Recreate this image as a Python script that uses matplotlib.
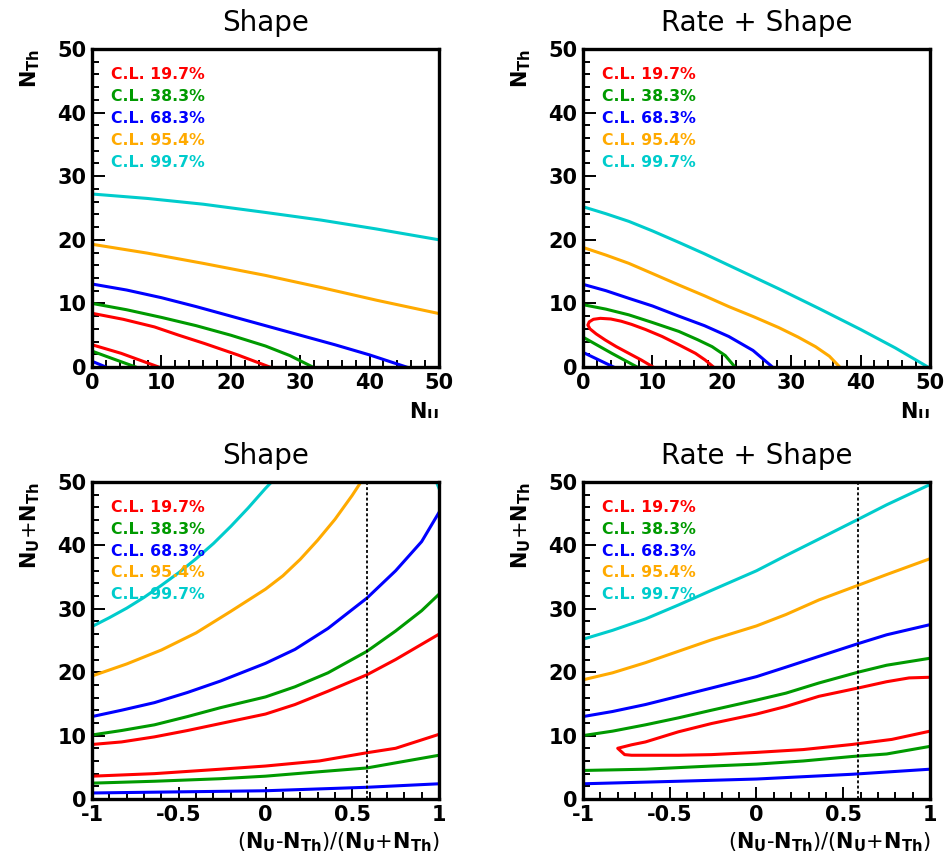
import matplotlib
matplotlib.use('Agg')
import matplotlib.pyplot as plt
from matplotlib.ticker import MultipleLocator, FuncFormatter
from matplotlib.transforms import Bbox, TransformedBbox

plt.rcParams['font.family'] = 'DejaVu Sans'
plt.rcParams['font.weight'] = 'bold'
plt.rcParams['mathtext.fontset'] = 'dejavusans'
plt.rcParams['mathtext.default'] = 'bf'
plt.rcParams['axes.unicode_minus'] = False

cl_labels = ['C.L. 19.7%', 'C.L. 38.3%', 'C.L. 68.3%', 'C.L. 95.4%', 'C.L. 99.7%']
cl_colors = ['#ff0000', '#009a00', '#0000ff', '#ffaa00', '#00cccc']

# --- Shape : N_U vs N_Th
s_red1_u = [0, 4.5, 9.0, 12.5, 16.2, 21.0, 25.6]
s_red1_t = [8.45, 7.5, 6.3, 5.0, 3.7, 1.9, 0]
s_red2_u = [0, 4.2, 9.6]
s_red2_t = [3.5, 2.15, 0]
s_green1_u = [0, 5, 10, 15, 20, 25, 28.5, 31.8]
s_green1_t = [10.0, 9.0, 7.8, 6.5, 5.0, 3.3, 1.8, 0]
s_green2_u = [0, 3.0, 6.3]
s_green2_t = [2.5, 1.3, 0]
s_blue1_u = [0, 5, 10, 15, 20, 25, 30, 35, 40, 45.3]
s_blue1_t = [13.05, 12.1, 10.9, 9.5, 8.0, 6.5, 5.0, 3.5, 1.9, 0]
s_blue2_u = [0, 2.0]
s_blue2_t = [0.9, 0]
s_orange_u = [0, 8, 16, 25, 33, 41, 50]
s_orange_t = [19.3, 17.9, 16.3, 14.4, 12.5, 10.5, 8.4]
s_cyan_u = [0, 8, 16, 25, 33, 41, 50]
s_cyan_t = [27.2, 26.5, 25.6, 24.3, 23.1, 21.7, 20.0]

# --- Rate + Shape : N_U vs N_Th
rs_red_u = [10.1, 8.4, 6.6, 4.8, 3.2, 1.9, 1.0, 0.7, 0.9, 1.5, 2.5, 4.0,
            5.5, 7.0, 9.0, 11.4, 13.8, 16.2, 17.6, 18.8]
rs_red_t = [0, 1.1, 2.15, 3.2, 4.25, 5.2, 6.0, 6.6, 7.1, 7.5, 7.65, 7.55,
            7.2, 6.7, 5.9, 4.8, 3.5, 2.15, 1.1, 0]
rs_green1_u = [0, 3.3, 6.6, 10, 13.8, 16.5, 18.6, 20.5, 21.9]
rs_green1_t = [9.8, 9.1, 8.2, 7.0, 5.6, 4.3, 3.2, 1.8, 0]
rs_green2_u = [0, 4.15, 7.8]
rs_green2_t = [4.7, 2.15, 0]
rs_blue1_u = [0, 3.3, 6.6, 10, 13.8, 17.5, 21, 24.5, 27.3]
rs_blue1_t = [13.0, 12.0, 10.8, 9.6, 8.0, 6.5, 4.8, 2.6, 0]
rs_blue2_u = [0, 4.4]
rs_blue2_t = [2.3, 0]
rs_orange_u = [0, 3.3, 6.6, 10, 13.8, 17.5, 21, 24.6, 28.2, 31, 33.5, 35.5, 37.0]
rs_orange_t = [18.8, 17.6, 16.3, 14.7, 12.9, 11.2, 9.5, 7.9, 6.2, 4.7, 3.2, 1.7, 0]
rs_cyan_u = [0, 3.3, 6.6, 10, 13.8, 17.5, 21, 24.5, 28.2, 34, 40, 45, 49.7]
rs_cyan_t = [25.2, 24.1, 22.9, 21.4, 19.6, 17.8, 16.0, 14.2, 12.3, 9.2, 5.9, 3.0, 0]

# --- Shape : asymmetry vs sum
sa_r = [-1, -0.83, -0.64, -0.45, -0.26, 0.0, 0.17, 0.36, 0.585, 0.75, 0.9, 1.0]
sa_red1_s = [8.6, 9.0, 9.8, 10.8, 11.9, 13.4, 14.9, 17.0, 19.6, 22.0, 24.4, 26.0]
sa_green1_s = [10.1, 10.8, 11.7, 13.0, 14.4, 16.1, 17.7, 19.9, 23.3, 26.5, 29.7, 32.3]
sa_blue1_s = [13.0, 14.0, 15.2, 16.8, 18.6, 21.4, 23.6, 26.9, 31.7, 36.0, 40.6, 45.2]
sa_orange_r = [-1, -0.8, -0.6, -0.4, -0.2, 0, 0.1, 0.2, 0.3, 0.4, 0.5, 0.55]
sa_orange_s = [19.4, 21.3, 23.5, 26.2, 29.6, 33.1, 35.2, 37.8, 40.8, 44.1, 47.9, 50]
sa_cyan_r = [-1, -0.9, -0.8, -0.7, -0.6, -0.5, -0.4, -0.3, -0.2, -0.1, 0.0, 0.035]
sa_cyan_s = [27.2, 28.6, 30.1, 31.8, 33.7, 35.7, 37.9, 40.3, 43.0, 45.9, 49.0, 50.0]
sa_cyan2_r = [0.985, 1.0]
sa_cyan2_s = [50, 49.0]
sa_red2_r = [-1, -0.64, -0.26, 0.0, 0.31, 0.585, 0.75, 1.0]
sa_red2_s = [3.6, 4.0, 4.7, 5.2, 6.0, 7.3, 8.0, 10.2]
sa_green2_r = [-1, -0.64, -0.26, 0.0, 0.31, 0.585, 0.75, 1.0]
sa_green2_s = [2.5, 2.8, 3.2, 3.6, 4.3, 4.9, 5.7, 6.9]
sa_blue2_r = [-1, 0.0, 0.585, 1.0]
sa_blue2_s = [0.95, 1.3, 1.85, 2.4]

# --- Rate + Shape : asymmetry vs sum
rsa_r = [-1, -0.83, -0.64, -0.45, -0.26, 0.0, 0.17, 0.36, 0.585, 0.75, 1.0]
rsa_cyan_s = [25.2, 26.6, 28.4, 30.6, 32.9, 36.0, 38.4, 41.0, 44.1, 46.4, 49.6]
rsa_orange_s = [18.8, 19.9, 21.5, 23.3, 25.1, 27.3, 29.1, 31.4, 33.7, 35.4, 37.9]
rsa_blue1_s = [13.0, 13.8, 14.9, 16.2, 17.5, 19.3, 20.8, 22.5, 24.5, 25.9, 27.5]
rsa_green1_s = [10.0, 10.7, 11.7, 12.8, 14.0, 15.6, 16.7, 18.3, 20.0, 21.1, 22.2]
rsa_red_r = [1.0, 0.78, 0.55, 0.27, 0.0, -0.26, -0.45, -0.72, -0.76, -0.80,
             -0.72, -0.64, -0.45, -0.26, 0.0, 0.17, 0.36, 0.585, 0.75, 0.88, 1.0]
rsa_red_s = [10.7, 9.4, 8.6, 7.8, 7.35, 7.0, 6.9, 6.9, 7.0, 8.0,
             8.55, 9.0, 10.6, 11.9, 13.4, 14.6, 16.2, 17.5, 18.5, 19.1, 19.2]
rsa_green2_r = [-1, -0.64, -0.26, 0.0, 0.27, 0.55, 0.75, 1.0]
rsa_green2_s = [4.5, 4.7, 5.2, 5.5, 6.0, 6.7, 7.1, 8.3]
rsa_blue2_r = [-1, -0.45, 0.0, 0.55, 1.0]
rsa_blue2_s = [2.4, 2.8, 3.15, 3.9, 4.7]

ratio_mark = 0.585

# (cl index, x, y)
shape_curves = [(0, s_red1_u, s_red1_t), (0, s_red2_u, s_red2_t),
                (1, s_green1_u, s_green1_t), (1, s_green2_u, s_green2_t),
                (2, s_blue1_u, s_blue1_t), (2, s_blue2_u, s_blue2_t),
                (3, s_orange_u, s_orange_t), (4, s_cyan_u, s_cyan_t)]
rate_curves = [(0, rs_red_u, rs_red_t),
               (1, rs_green1_u, rs_green1_t), (1, rs_green2_u, rs_green2_t),
               (2, rs_blue1_u, rs_blue1_t), (2, rs_blue2_u, rs_blue2_t),
               (3, rs_orange_u, rs_orange_t), (4, rs_cyan_u, rs_cyan_t)]
shape_asym_curves = [(0, sa_r, sa_red1_s), (0, sa_red2_r, sa_red2_s),
                     (1, sa_r, sa_green1_s), (1, sa_green2_r, sa_green2_s),
                     (2, sa_r, sa_blue1_s), (2, sa_blue2_r, sa_blue2_s),
                     (3, sa_orange_r, sa_orange_s),
                     (4, sa_cyan_r, sa_cyan_s), (4, sa_cyan2_r, sa_cyan2_s)]
rate_asym_curves = [(0, rsa_red_r, rsa_red_s),
                    (1, rsa_r, rsa_green1_s), (1, rsa_green2_r, rsa_green2_s),
                    (2, rsa_r, rsa_blue1_s), (2, rsa_blue2_r, rsa_blue2_s),
                    (3, rsa_r, rsa_orange_s), (4, rsa_r, rsa_cyan_s)]

fig = plt.figure(figsize=(9.45, 8.59), dpi=100)

W, H = 945., 859.
def px_axes(left, top, right, bottom):
    return fig.add_axes([left / W, 1 - bottom / H, (right - left) / W, (bottom - top) / H])

ax_tl = px_axes(92, 49, 439, 367)
ax_tr = px_axes(583, 49, 930, 367)
ax_bl = px_axes(92, 482, 439, 799)
ax_br = px_axes(583, 482, 930, 799)

fmt = FuncFormatter(lambda v, p: '%g' % v)


def style(ax, title, xlab, ylab, xlim, xmajor, xminor, xlab_y):
    ax.set_xlim(*xlim)
    ax.set_ylim(0, 50)
    ax.xaxis.set_major_locator(MultipleLocator(xmajor))
    ax.xaxis.set_minor_locator(MultipleLocator(xminor))
    ax.yaxis.set_major_locator(MultipleLocator(10))
    ax.yaxis.set_minor_locator(MultipleLocator(2))
    ax.xaxis.set_major_formatter(fmt)
    ax.yaxis.set_major_formatter(fmt)
    ax.tick_params(which='both', direction='in', top=False, right=False,
                   width=1.4, labelsize=15, pad=4)
    ax.tick_params(which='major', length=9)
    ax.tick_params(which='minor', length=5)
    for sp in ax.spines.values():
        sp.set_linewidth(2.4)
    ax.set_title(title, fontsize=20, fontweight='normal', pad=13)
    ax.set_xlabel(xlab, fontsize=15, loc='right')
    ax.xaxis.set_label_coords(1.0, xlab_y)
    ax.set_ylabel(ylab, fontsize=15, loc='top')
    ax.yaxis.set_label_coords(-0.145, 1.0)
    for i in range(len(cl_labels)):
        ax.text(0.054, 0.906 - 0.069 * i, cl_labels[i], color=cl_colors[i],
                fontsize=11.3, transform=ax.transAxes, va='baseline')


def draw(ax, curves):
    for ci, x, y in curves:
        ax.plot(x, y, color=cl_colors[ci], lw=2.2, solid_joinstyle='round')


draw(ax_tl, shape_curves)
draw(ax_tr, rate_curves)
draw(ax_bl, shape_asym_curves)
draw(ax_br, rate_asym_curves)

for ax in (ax_bl, ax_br):
    ax.axvline(ratio_mark, color='black', lw=1.3, ls=(0, (1.6, 1.3)))

style(ax_tl, 'Shape', '$N_U$', '$N_{Th}$', (0, 50), 10, 2, -0.104)
style(ax_tr, 'Rate + Shape', '$N_U$', '$N_{Th}$', (0, 50), 10, 2, -0.104)
asym_lab = '($N_U$-$N_{Th}$)/($N_U$+$N_{Th}$)'
style(ax_bl, 'Shape', asym_lab, '$N_U$+$N_{Th}$', (-1, 1), 0.5, 0.1, -0.1)
style(ax_br, 'Rate + Shape', asym_lab, '$N_U$+$N_{Th}$', (-1, 1), 0.5, 0.1, -0.1)

# top panels were cut just under their x titles
clip = TransformedBbox(Bbox([[0, 1 - 418 / H], [1, 1]]), fig.transFigure)
for ax in (ax_tl, ax_tr):
    ax.xaxis.label.set_clip_box(clip)
    ax.xaxis.label.set_clip_on(True)

fig.savefig('out.png', dpi=100)
